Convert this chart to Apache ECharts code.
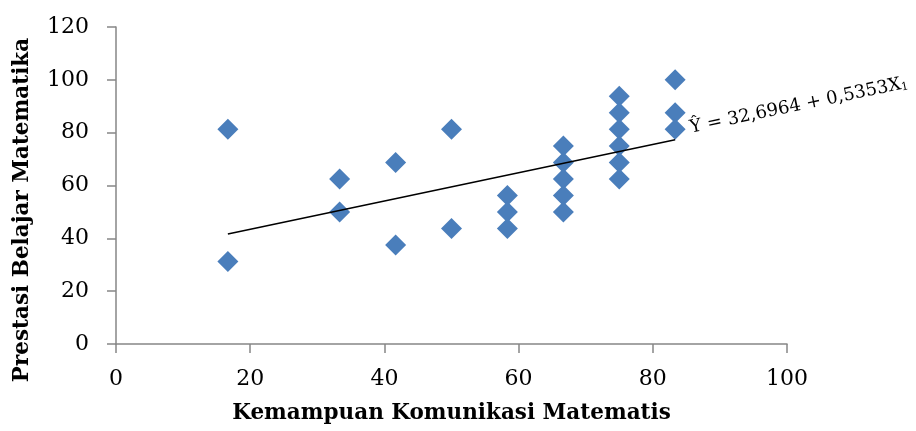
<!DOCTYPE html>
<html><head><meta charset="utf-8">
<script src="https://cdn.jsdelivr.net/npm/echarts@6/dist/echarts.min.js"></script>
<style>html,body{margin:0;padding:0;background:#fff}#c{width:916px;height:431px}</style>
</head><body><div id="c"></div>
<script>
var xValues = [16.67,16.67, 33.33,33.33, 41.67,41.67, 50,50, 58.33,58.33,58.33, 66.67,66.67,66.67,66.67,66.67, 75,75,75,75,75,75, 83.33,83.33,83.33];
var yValues = [81.25,31.25, 62.5,50, 68.75,37.5, 81.25,43.75, 56.25,50,43.75, 75,68.75,62.5,56.25,50, 93.75,87.5,81.25,75,68.75,62.5, 100,87.5,81.25];
var lineX = [16.67, 83.33];
var lineY = [41.62, 77.30];
var xTicks = [0,20,40,60,80,100];
var yTicks = [0,20,40,60,80,100,120];
var xTitle = 'Kemampuan Komunikasi Matematis';
var yTitle = 'Prestasi Belajar Matematika';

var pts = xValues.map(function(x,i){return [x,yValues[i]];});
var linePts = lineX.map(function(x,i){return [x,lineY[i]];});
var serif = '"DejaVu Serif",serif';
var chart = echarts.init(document.getElementById('c'));
chart.setOption({
  animation:false,
  grid:{left:116,right:129,top:27,bottom:87},
  xAxis:{type:'value',min:xTicks[0],max:xTicks[xTicks.length-1],interval:20,
    name:xTitle,nameLocation:'middle',nameGap:58,
    nameTextStyle:{fontFamily:serif,fontWeight:'bold',fontSize:21.5,color:'#000'},
    axisLine:{lineStyle:{color:'#868686',width:1.5}},
    axisTick:{show:true,length:9,lineStyle:{color:'#868686',width:1.5}},
    axisLabel:{fontFamily:serif,fontSize:22,color:'#000',margin:24},
    splitLine:{show:false}},
  yAxis:{type:'value',min:yTicks[0],max:yTicks[yTicks.length-1],interval:20,
    axisLine:{show:true,lineStyle:{color:'#868686',width:1.5}},
    axisTick:{show:true,length:9,lineStyle:{color:'#868686',width:1.5}},
    axisLabel:{fontFamily:serif,fontSize:22,color:'#000',margin:27},
    splitLine:{show:false}},
  series:[
    {type:'line',data:linePts,symbol:'none',lineStyle:{color:'#000',width:1.5},z:3},
    {type:'scatter',data:pts,symbol:'diamond',symbolSize:[21,21],itemStyle:{color:'#4a7ebb',opacity:1},z:2}
  ],
  graphic:[
    {type:'text',x:22,y:210,rotation:Math.PI/2,
     style:{text:yTitle,fontFamily:serif,fontWeight:'bold',fontSize:21.5,fill:'#000',align:'center',verticalAlign:'middle'}},
    {type:'text',x:692,y:137,rotation:0.205,
    style:{text:'Ŷ = 32,6964 + 0,5353X{s|1}',fontFamily:serif,fontSize:18,fill:'#000',
      verticalAlign:'bottom',rich:{s:{fontSize:11,verticalAlign:'bottom',fontFamily:serif}}}}]
});
</script></body></html>
